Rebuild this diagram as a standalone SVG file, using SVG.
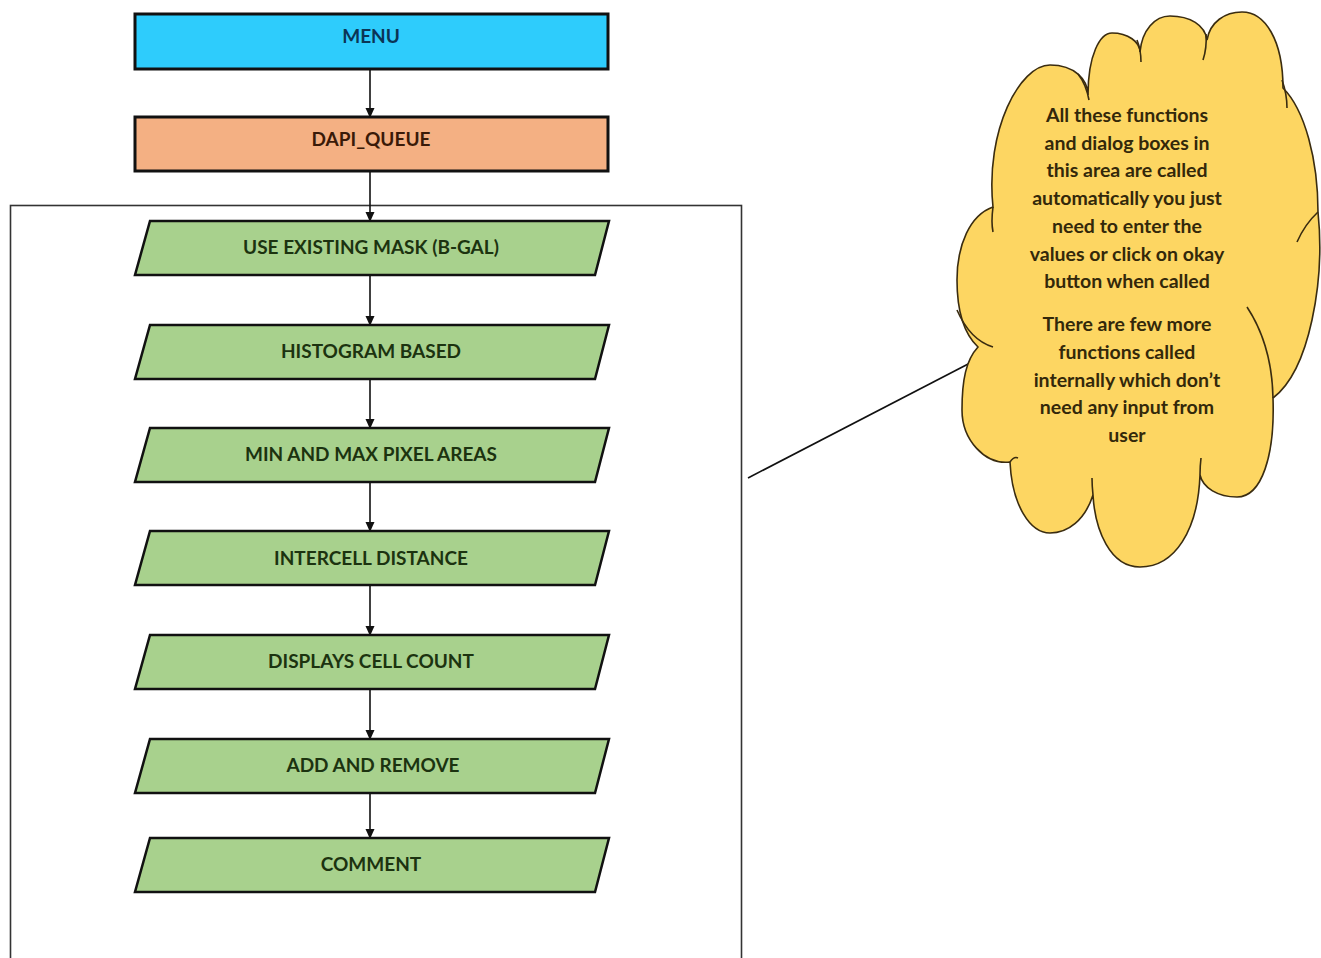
<svg xmlns="http://www.w3.org/2000/svg" width="1321" height="958" viewBox="0 0 1321 958">
  <style>
    .box { stroke: #111; stroke-width: 3; }
    .menu { fill: #2ECCFC; }
    .dapi { fill: #F4B083; }
    .step { fill: #A8D18D; stroke: #111; stroke-width: 2.5; }
    .lbl { font-family: Lato, "Open Sans", "Liberation Sans", sans-serif; font-weight: bold; font-size: 19px; text-anchor: middle; }
    .lbl-menu { fill: #0B3555; }
    .lbl-dapi { fill: #3A1A08; }
    .lbl-step { fill: #1C3310; }
    .conn { stroke: #111; stroke-width: 1.6; fill: none; }
    .cloud { fill: #FDD662; stroke: #3A2C10; stroke-width: 1.6; }
    .cloud-in { fill: none; stroke: #3A2C10; stroke-width: 1.6; }
    .note { font-family: Lato, "Open Sans", "Liberation Sans", sans-serif; font-weight: bold; font-size: 19.5px; fill: #33280A; text-anchor: middle; }
  </style>
  <defs>
    <marker id="arrow" markerWidth="10" markerHeight="10" refX="9" refY="5" orient="auto" markerUnits="userSpaceOnUse">
      <path d="M0,0.5 L10,5 L0,9.5 Z" fill="#111"/>
    </marker>
  </defs>

  <rect width="1321" height="958" fill="#ffffff"/>

  <!-- frame around the automatic steps -->
  <rect id="auto-area" x="10.5" y="205.5" width="731" height="770" fill="none" stroke="#333" stroke-width="1.6"/>

  <!-- connectors -->
  <g id="connectors">
    <line class="conn" x1="370" y1="70" x2="370" y2="117" marker-end="url(#arrow)"/>
    <line class="conn" x1="370" y1="172" x2="370" y2="221" marker-end="url(#arrow)"/>
    <line class="conn" x1="370" y1="276" x2="370" y2="325" marker-end="url(#arrow)"/>
    <line class="conn" x1="370" y1="380" x2="370" y2="428" marker-end="url(#arrow)"/>
    <line class="conn" x1="370" y1="483" x2="370" y2="531" marker-end="url(#arrow)"/>
    <line class="conn" x1="370" y1="586" x2="370" y2="635" marker-end="url(#arrow)"/>
    <line class="conn" x1="370" y1="690" x2="370" y2="739" marker-end="url(#arrow)"/>
    <line class="conn" x1="370" y1="794" x2="370" y2="838" marker-end="url(#arrow)"/>
    <line class="conn" x1="748" y1="478" x2="972" y2="362"/>
  </g>

  <g id="menu">
    <rect class="box menu" x="135" y="14" width="473" height="55"/>
    <text class="lbl lbl-menu" x="371" y="43">MENU</text>
  </g>

  <g id="dapi-queue">
    <rect class="box dapi" x="135" y="117" width="473" height="54"/>
    <text class="lbl lbl-dapi" x="371" y="146">DAPI_QUEUE</text>
  </g>

  <g id="use-existing-mask">
    <polygon class="step" points="150,221 609,221 595,275 135,275"/>
    <text class="lbl lbl-step" x="371" y="254">USE EXISTING MASK (B-GAL)</text>
  </g>

  <g id="histogram-based">
    <polygon class="step" points="150,325 609,325 595,379 135,379"/>
    <text class="lbl lbl-step" x="371" y="358">HISTOGRAM BASED</text>
  </g>

  <g id="min-max-pixel-areas">
    <polygon class="step" points="150,428 609,428 595,482 135,482"/>
    <text class="lbl lbl-step" x="371" y="461">MIN AND MAX PIXEL AREAS</text>
  </g>

  <g id="intercell-distance">
    <polygon class="step" points="150,531 609,531 595,585 135,585"/>
    <text class="lbl lbl-step" x="371" y="565">INTERCELL DISTANCE</text>
  </g>

  <g id="displays-cell-count">
    <polygon class="step" points="150,635 609,635 595,689 135,689"/>
    <text class="lbl lbl-step" x="371" y="668">DISPLAYS CELL COUNT</text>
  </g>

  <g id="add-and-remove">
    <polygon class="step" points="150,739 609,739 595,793 135,793"/>
    <text class="lbl lbl-step" x="373" y="772">ADD AND REMOVE</text>
  </g>

  <g id="comment">
    <polygon class="step" points="150,838 609,838 595,892 135,892"/>
    <text class="lbl lbl-step" x="371" y="871">COMMENT</text>
  </g>

  <g id="note-cloud">
    <path class="cloud" d="M993,207
      C985,130 1020,65 1050,65 C1075,65 1088,80 1088,95
      C1088,55 1100,33 1112,33 C1128,33 1140,42 1140,52
      C1142,30 1155,16 1170,16 C1190,16 1205,25 1207,40
      C1210,22 1225,12 1242,12 C1265,12 1283,40 1283,88
      C1305,110 1318,160 1318,212
      C1325,280 1310,370 1273,398
      C1275,455 1262,497 1237,497 C1218,497 1203,488 1200,475
      C1198,530 1175,567 1140,567 C1110,567 1095,530 1093,495
      C1085,520 1068,533 1050,533 C1030,533 1012,505 1010,462
      C985,465 962,440 962,410 C962,380 966,360 978,347
      C960,330 957,300 957,280 C957,245 970,215 993,207 Z"/>
    <!-- inner folds of the cloud outline -->
    <path class="cloud-in" d="M1078,74 Q1086,84 1089,100"/>
    <path class="cloud-in" d="M1137,40 Q1141,50 1141,62"/>
    <path class="cloud-in" d="M1206,34 Q1207,48 1203,60"/>
    <path class="cloud-in" d="M1282,80 Q1287,94 1287,108"/>
    <path class="cloud-in" d="M1318,212 Q1305,224 1297,242"/>
    <path class="cloud-in" d="M1247,307 Q1272,345 1273,398"/>
    <path class="cloud-in" d="M993,207 Q991,222 993,232"/>
    <path class="cloud-in" d="M957,310 Q970,340 993,347"/>
    <path class="cloud-in" d="M1010,462 Q1014,456 1018,458"/>
    <path class="cloud-in" d="M1093,495 Q1092,485 1092,478"/>
    <path class="cloud-in" d="M1200,475 Q1200,466 1201,458"/>
    <text class="note" x="1127" y="122">All these functions</text>
    <text class="note" x="1127" y="150">and dialog boxes in</text>
    <text class="note" x="1127" y="177">this area are called</text>
    <text class="note" x="1127" y="205">automatically you just</text>
    <text class="note" x="1127" y="233">need to enter the</text>
    <text class="note" x="1127" y="261">values or click on okay</text>
    <text class="note" x="1127" y="288">button when called</text>
    <text class="note" x="1127" y="331">There are few more</text>
    <text class="note" x="1127" y="359">functions called</text>
    <text class="note" x="1127" y="387">internally which don’t</text>
    <text class="note" x="1127" y="414">need any input from</text>
    <text class="note" x="1127" y="442">user</text>
  </g>
</svg>
